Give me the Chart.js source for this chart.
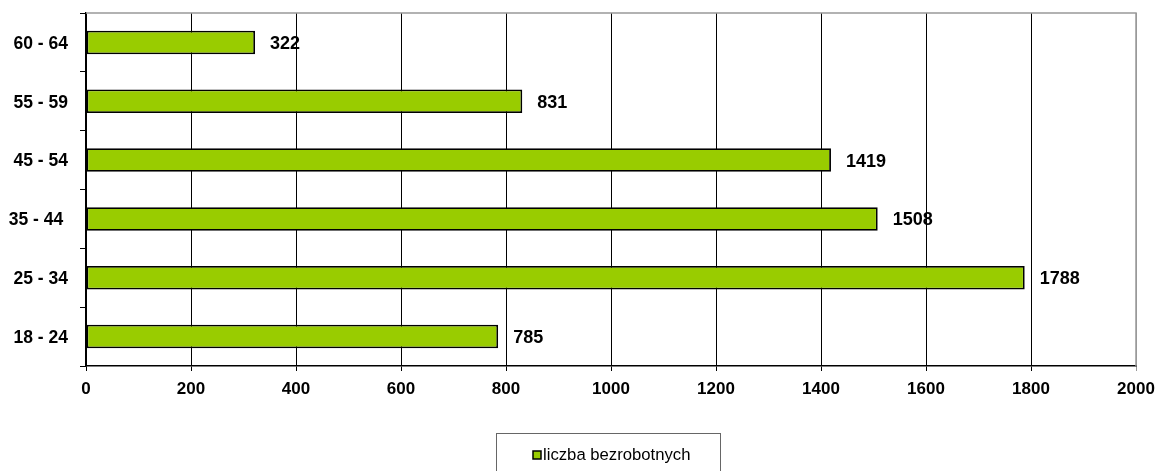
<!DOCTYPE html>
<html>
  <head>
    <title>Liczba bezrobotnych</title>
    <script src="https://cdn.jsdelivr.net/npm/chart.js@4"></script>
    <style>
      html, body { margin: 0; padding: 0; background: #fff; }
      #container { width: 1158px; height: 471px; }
    </style>
  </head>
  <body>
    <div id="container">
      <canvas id="canvas"></canvas>
    </div>
    <script>
      // age groups, bottom to top
      const ageGroups = ['18 - 24', '25 - 34', '35 - 44 ', '45 - 54', '55 - 59', '60 - 64'];
      const unemployed = [785, 1788, 1508, 1419, 831, 322];
      const seriesName = 'liczba bezrobotnych';

      const FONT = 'Arial, "Liberation Sans", sans-serif';

      // bold numbers to the right of each bar
      const valueLabels = {
        id: 'valueLabels',
        afterDatasetsDraw(chart) {
          const ctx = chart.ctx;
          const meta = chart.getDatasetMeta(0);
          ctx.save();
          ctx.font = 'bold 18px ' + FONT;
          ctx.fillStyle = '#000';
          ctx.textBaseline = 'middle';
          ctx.textAlign = 'left';
          meta.data.forEach((bar, i) => {
            ctx.fillText(String(chart.data.datasets[0].data[i]), bar.x + 15, bar.y + 1.5);
          });
          ctx.restore();
        }
      };

      // grey plot-area frame on top and right
      const plotFrame = {
        id: 'plotFrame',
        beforeDatasetsDraw(chart) {
          const { ctx, chartArea: a } = chart;
          ctx.save();
          ctx.strokeStyle = '#999';
          ctx.lineWidth = 1.5;
          ctx.beginPath();
          ctx.moveTo(a.left, a.top);
          ctx.lineTo(a.right, a.top);
          ctx.lineTo(a.right, a.bottom);
          ctx.stroke();
          ctx.restore();
        }
      };

      // boxed legend at the bottom, as in the spreadsheet chart
      const boxLegend = {
        id: 'boxLegend',
        afterDraw(chart) {
          const ctx = chart.ctx;
          const ds = chart.data.datasets[0];
          ctx.save();
          ctx.strokeStyle = '#666';
          ctx.lineWidth = 1;
          ctx.strokeRect(496.5, 433.5, 224, 50);
          ctx.fillStyle = ds.backgroundColor;
          ctx.fillRect(533, 451, 8, 8);
          ctx.strokeStyle = '#000';
          ctx.lineWidth = 1.5;
          ctx.strokeRect(533, 451, 8, 8);
          ctx.font = '16.7px ' + FONT;
          ctx.fillStyle = '#000';
          ctx.textBaseline = 'middle';
          ctx.fillText(ds.label, 543, 455);
          ctx.restore();
        }
      };

      window.onload = () => {
        const ctx = document.getElementById('canvas').getContext('2d');
        new Chart(ctx, {
          type: 'bar',
          data: {
            labels: ageGroups,
            datasets: [{
              label: seriesName,
              data: unemployed,
              backgroundColor: '#99CC00',
              borderColor: '#000',
              borderWidth: 1.8,
              borderSkipped: false,
              barPercentage: 0.4,
              categoryPercentage: 1
            }]
          },
          options: {
            indexAxis: 'y',
            responsive: true,
            maintainAspectRatio: false,
            animation: false,
            layout: { padding: { left: 0, right: 22, top: 13, bottom: 0 } },
            plugins: {
              legend: { display: false },
              tooltip: { enabled: false }
            },
            scales: {
              x: {
                min: 0,
                max: 2000,
                ticks: {
                  stepSize: 200,
                  color: '#000',
                  padding: 8,
                  font: { family: FONT, size: 17, weight: 'bold' },
                  callback: (v) => String(v)
                },
                grid: {
                  color: (c) => (c.tick && c.tick.value === 2000 ? '#999' : '#000'),
                  lineWidth: 1,
                  tickLength: 5
                },
                border: { color: '#000', width: 1.5 },
                afterFit(scale) {
                  scale.height = 105;
                  scale.paddingLeft = 0;
                  scale.paddingRight = 0;
                }
              },
              y: {
                reverse: true,
                ticks: {
                  color: '#000',
                  padding: 12,
                  labelOffset: 1.5,
                  font: { family: FONT, size: 17.5, weight: 'bold' }
                },
                grid: {
                  drawOnChartArea: false,
                  offset: true,
                  color: '#000',
                  tickLength: 6
                },
                border: { color: '#000', width: 1.5 },
                afterFit(scale) {
                  scale.width = 86;
                  scale.paddingTop = 0;
                  scale.paddingBottom = 0;
                }
              }
            }
          },
          plugins: [plotFrame, valueLabels, boxLegend]
        });
      };
    </script>
  </body>
</html>
